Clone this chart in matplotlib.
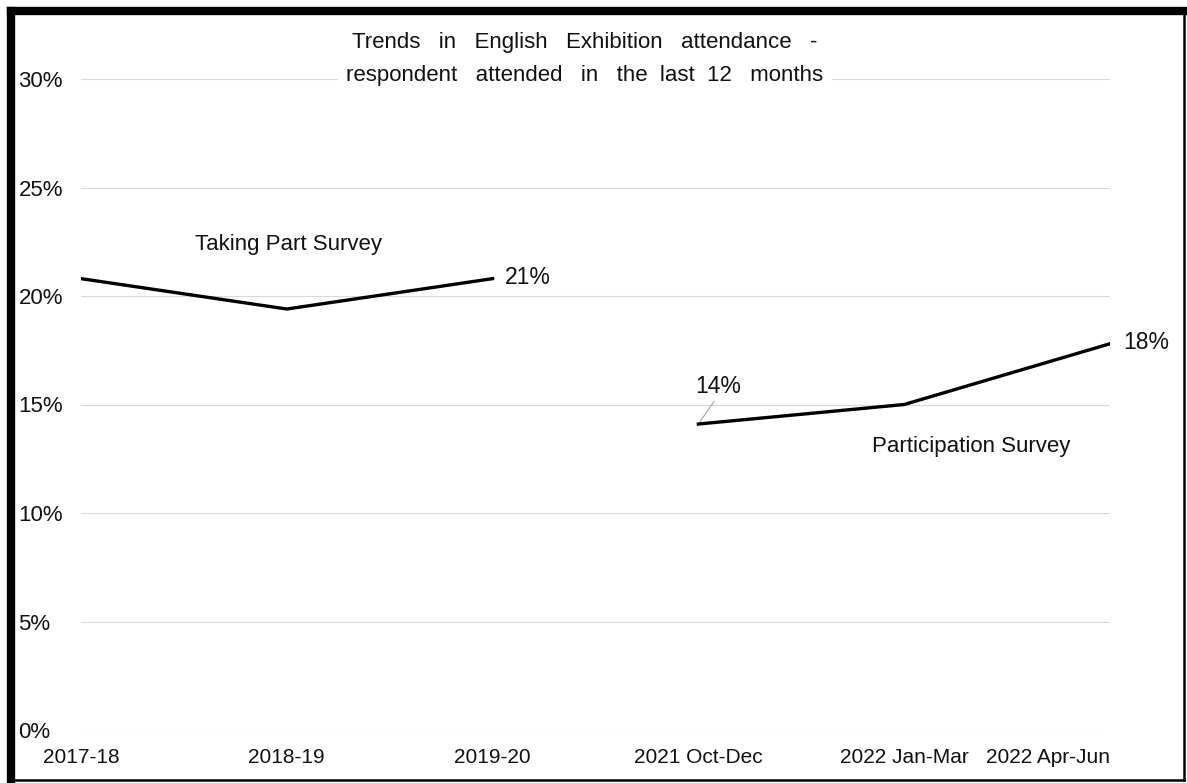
import matplotlib
matplotlib.use("Agg")
import matplotlib.pyplot as plt
from matplotlib.lines import Line2D
import numpy as np

categories = ["2017-18", "2018-19", "2019-20", "2021 Oct-Dec", "2022 Jan-Mar", "2022 Apr-Jun"]
taking_part = [20.8, 19.4, 20.8]
participation = [14.1, 15.0, 17.8]
y_ticks = [0, 5, 10, 15, 20, 25, 30]
title = ("Trends   in   English   Exhibition   attendance   -\n"
         "respondent   attended   in   the  last  12   months")

plt.rcParams['font.family'] = ['Liberation Sans', 'DejaVu Sans']

W, H = 1187, 783
L, R, B, T = 81, 1110, 730, 79
fig = plt.figure(figsize=(W / 100, H / 100), dpi=100)
ax = fig.add_axes([L / W, 1 - B / H, (R - L) / W, (B - T) / H])

x_all = np.arange(len(categories))
ax.plot(x_all[:3], taking_part, color='black', lw=2.4, solid_joinstyle='round', zorder=3)
ax.plot(x_all[3:], participation, color='black', lw=2.4, solid_joinstyle='round', zorder=3)

ax.set_xlim(0, len(categories) - 1)
ax.set_ylim(0, 30)
ax.set_yticks(y_ticks)
ax.set_yticklabels([f"{v}%" for v in y_ticks])
ax.set_xticks(x_all)
ax.set_xticklabels(categories)
ax.grid(axis='y', color='#d9d9d9', lw=0.8, zorder=0)
ax.grid(axis='x', visible=False)
for s in ax.spines.values():
    s.set_visible(False)
ax.tick_params(axis='both', length=0, colors='#111111')
ax.tick_params(axis='y', pad=45, labelsize=16)
ax.tick_params(axis='x', pad=13, labelsize=15)
for t in ax.yaxis.get_majorticklabels():
    t.set_ha('left')
xl = ax.xaxis.get_majorticklabels()
xl[-1].set_ha('right')

# Title with white background over gridline
fig.text(585 / W, 1 - 59 / H, title, ha='center', va='center', fontsize=16,
         color='#111111', linespacing=1.75,
         bbox=dict(facecolor='white', edgecolor='none', pad=6))

# Annotations
ax.text(1.01, 22.38, "Taking Part Survey", ha='center', va='center', fontsize=16, color='#111111')
ax.text(2.06, taking_part[2] + 0.05, f"{round(taking_part[2])}%", ha='left', va='center',
        fontsize=16.5, color='#111111')
ax.text(5.063, participation[2] + 0.05, f"{round(participation[2])}%", ha='left', va='center',
        fontsize=16.5, color='#111111', clip_on=False)
ax.text(3.095, 15.83, f"{round(participation[0])}%", ha='center', va='center',
        fontsize=16.5, color='#111111')
ax.plot([3.0, 3.076], [participation[0], 15.14], color='#a6a6a6', lw=0.8, zorder=2)
ax.text(4.325, 13.06, "Participation Survey", ha='center', va='center', fontsize=16, color='#111111')

# Figure border
fig.add_artist(Line2D([11 / W, 11 / W], [1 - 11 / H, 1 - 780 / H], transform=fig.transFigure,
                      color='black', lw=6, solid_capstyle='projecting'))
fig.add_artist(Line2D([11 / W, 1184 / W], [1 - 11 / H, 1 - 11 / H], transform=fig.transFigure,
                      color='black', lw=6, solid_capstyle='projecting'))
fig.add_artist(Line2D([1184 / W, 1184 / W], [1 - 11 / H, 1 - 780 / H], transform=fig.transFigure,
                      color='black', lw=1.8))
fig.add_artist(Line2D([11 / W, 1184 / W], [1 - 780 / H, 1 - 780 / H], transform=fig.transFigure,
                      color='black', lw=1.8))

fig.savefig("out.png", dpi=100, facecolor='white')
